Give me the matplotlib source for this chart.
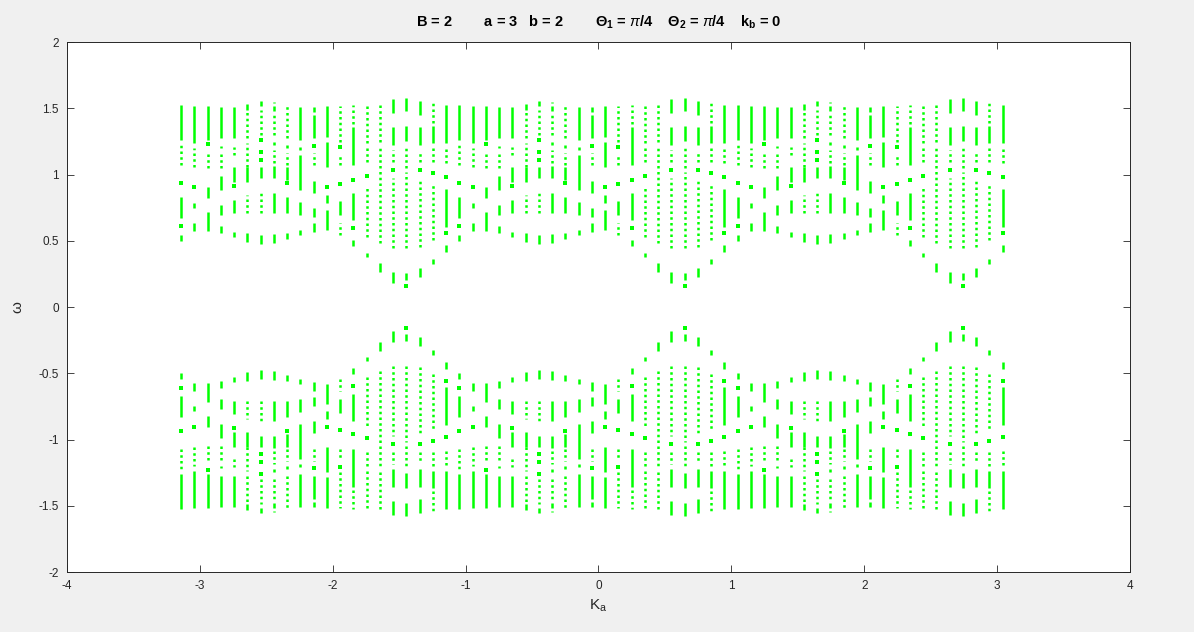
import numpy as np
import matplotlib
matplotlib.use("Agg")
import matplotlib.pyplot as plt
from matplotlib.ticker import FuncFormatter

plt.rcParams['font.family'] = ['Liberation Sans', 'DejaVu Sans']
plt.rcParams['axes.unicode_minus'] = False
plt.rcParams['mathtext.fontset'] = 'custom'
plt.rcParams['mathtext.rm'] = 'Liberation Sans'
plt.rcParams['mathtext.it'] = 'Liberation Sans:italic'
plt.rcParams['mathtext.bf'] = 'Liberation Sans:bold'

# K_a grid (63 columns over one Brillouin zone)
n_cols = 63
k_a = np.linspace(-np.pi, np.pi, n_cols + 1)[:-1]

# upper-branch omega bands read for one period (21 columns); spectrum repeats
# every 2*pi/3 in K_a and is mirrored (omega -> -omega) for the lower branch
dense_bands = [
    [(1.261, 1.525), (0.669, 0.828), (0.501, 0.544)],
    [(1.235, 1.517), (0.745, 0.788), (0.576, 0.632)],
    [(1.261, 1.517), (0.820, 0.908), (0.576, 0.720)],
    [(1.273, 1.507), (1.198, 1.215), (0.883, 0.989), (0.694, 0.770), (0.561, 0.611)],
    [(1.273, 1.507), (0.946, 1.059), (0.707, 0.808), (0.531, 0.569)],
    [(1.487, 1.532), (0.946, 1.059), (0.493, 0.556)],
    [(1.517, 1.555), (0.971, 1.059), (0.476, 0.544)],
    [(1.537, 1.547), (1.482, 1.517), (1.223, 1.248), (0.971, 1.064), (0.707, 0.858), (0.481, 0.551)],
    [(1.198, 1.223), (0.959, 1.059), (0.707, 0.833), (0.511, 0.556)],
    [(1.261, 1.512), (1.185, 1.210), (0.883, 1.148), (0.694, 0.793), (0.544, 0.581)],
    [(1.474, 1.512), (1.273, 1.449), (0.858, 0.954), (0.682, 0.745), (0.569, 0.637)],
    [(1.286, 1.517), (1.059, 1.248), (0.783, 0.846), (0.581, 0.732)],
    [(0.694, 0.800)],
    [(1.072, 1.361), (0.657, 0.858), (0.460, 0.506)],
    [(0.375, 0.410)],
    [(0.267, 0.330)],
    [(1.467, 1.568), (1.223, 1.361), (0.179, 0.267)],
    [(1.482, 1.575), (1.256, 1.366), (0.204, 0.259)],
    [(1.449, 1.555), (1.223, 1.361), (0.229, 0.292)],
    [(1.235, 1.366), (0.325, 0.360)],
    [(1.235, 1.525), (0.606, 0.888), (0.418, 0.468)],
]
sparse_bands = [
    [(1.072, 1.235)],
    [(1.059, 1.198)],
    [(1.047, 1.173)],
    [(1.047, 1.160)],
    [(1.148, 1.210)],
    [(1.273, 1.487), (1.059, 1.235), (0.707, 0.845)],
    [(1.298, 1.487), (0.707, 0.871)],
    [(1.298, 1.449), (1.084, 1.185)],
    [(1.273, 1.517), (1.072, 1.160)],
    [],
    [(1.072, 1.160)],
    [],
    [(1.248, 1.517), (1.072, 1.148), (0.544, 0.637)],
    [(1.380, 1.525)],
    [(1.235, 1.532), (1.097, 1.210), (0.531, 0.903)],
    [(1.248, 1.542), (1.047, 1.205), (0.481, 1.029)],
    [(1.097, 1.185), (0.443, 0.971)],
    [(1.047, 1.215), (0.443, 1.022)],
    [(1.097, 1.180), (0.455, 0.959)],
    [(1.386, 1.537), (1.097, 1.198), (0.506, 0.934)],
    [(1.084, 1.205)],
]
single_levels = [
    [0.939, 0.611],
    [0.908],
    [1.228],
    [],
    [0.913],
    [],
    [1.260, 1.173, 1.110],
    [],
    [0.934],
    [],
    [1.215],
    [0.906],
    [1.205, 0.929],
    [0.959, 0.594],
    [0.989],
    [],
    [1.034],
    [0.160],
    [1.034],
    [1.009],
    [0.979, 0.562],
]

green = '#00ff00'

fig = plt.figure(figsize=(11.94, 6.32), dpi=100, facecolor='#f0f0f0')
ax = fig.add_axes([0.0561, 0.0949, 0.8903, 0.8386])
ax.set_facecolor('white')

for i, k in enumerate(k_a):
    j = i % 21
    for sign in (1, -1):
        for lo, hi in dense_bands[j]:
            ax.vlines(k, sign * lo, sign * hi, color=green, lw=1.8)
        for lo, hi in sparse_bands[j]:
            ax.vlines(k, sign * lo, sign * hi, color=green, lw=1.8,
                      linestyles=[(0, (1.0, 1.3))])
        lv = np.array(single_levels[j])
        if len(lv):
            ax.plot(np.full(len(lv), k), sign * lv, 's', color=green, ms=2.7, mew=0)

ax.set_xlim(-4, 4)
ax.set_ylim(-2, 2)
ax.set_xticks(np.arange(-4, 5, 1))
ax.set_yticks(np.arange(-2, 2.01, 0.5))
fmt = FuncFormatter(lambda v, p: '%g' % v)
ax.xaxis.set_major_formatter(fmt)
ax.yaxis.set_major_formatter(fmt)
ax.tick_params(direction='in', length=5, width=0.6, colors='#262626',
               labelsize=8.5, top=True, right=True, pad=6)
for s in ax.spines.values():
    s.set_color('#262626')
    s.set_linewidth(0.7)

ax.set_xlabel(r'K$_\mathrm{a}$', fontsize=11, color='#262626', labelpad=4)
ax.set_ylabel('ω', fontsize=11, color='#262626', labelpad=10)
ax.set_title(r'B = 2        a = 3   b = 2        Θ$_\mathbf{1}$ = $\pi$/4    '
             r'Θ$_\mathbf{2}$ = $\pi$/4    k$_\mathbf{b}$ = 0',
             fontsize=10.5, fontweight='bold', color='black', pad=11)

fig.savefig('out.png', dpi=100, facecolor=fig.get_facecolor())
